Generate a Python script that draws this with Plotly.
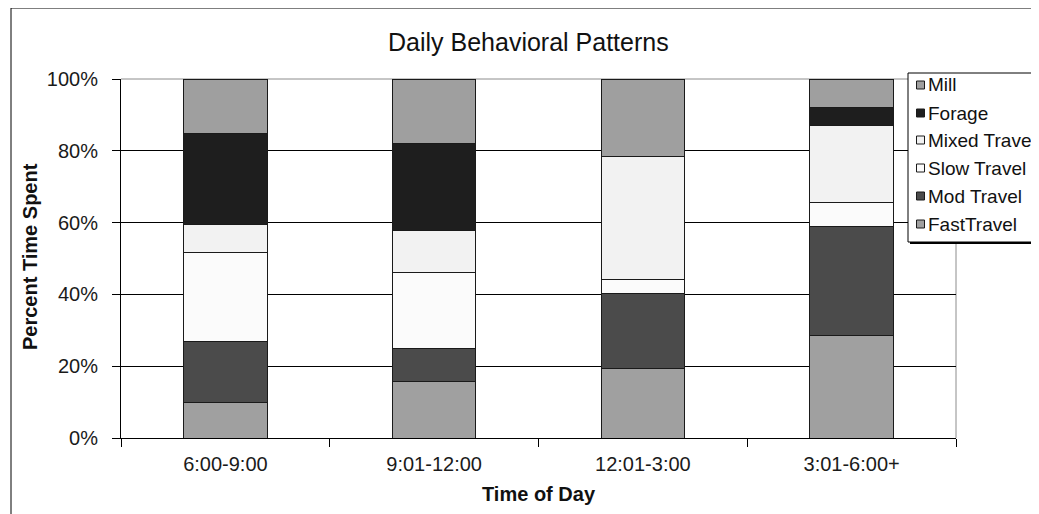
import plotly.graph_objects as go

# Time-of-day bins and the share of time (percent) spent in each behaviour
categories = ["6:00-9:00", "9:01-12:00", "12:01-3:00", "3:01-6:00+"]
fast_travel = [10.0, 15.7, 19.3, 28.5]
mod_travel = [16.9, 9.3, 21.0, 30.3]
slow_travel = [24.9, 21.2, 3.9, 6.7]
mixed_travel = [7.6, 11.5, 34.1, 21.6]
forage = [25.4, 24.3, 0.0, 5.0]
mill = [15.2, 18.0, 21.7, 7.9]

y_ticks = [0, 20, 40, 60, 80, 100]
y_tick_labels = ["0%", "20%", "40%", "60%", "80%", "100%"]

# Styling (stack order bottom -> top)
SERIES = [
    ("FastTravel", fast_travel, "#a0a0a0"),
    ("Mod Travel", mod_travel, "#4b4b4b"),
    ("Slow Travel", slow_travel, "#fbfbfb"),
    ("Mixed Travel", mixed_travel, "#f2f2f2"),
    ("Forage", forage, "#1e1e1e"),
    ("Mill", mill, "#9f9f9f"),
]
FONT = "Liberation Sans, Arial, sans-serif"
OUTLINE = "#1a1a1a"

# the page puts the figure 8px in from the window corner
OFF = 8
W, H = 1039 - OFF, 514 - OFF
# plot area in window pixels
PLOT_L, PLOT_R, PLOT_T, PLOT_B = 121, 956, 79, 438


def px_x(px):
    return (px - PLOT_L) / (PLOT_R - PLOT_L)


def px_y(py):
    return (PLOT_B - py) / (PLOT_B - PLOT_T)


fig = go.Figure()
for name, values, color in SERIES:
    fig.add_trace(
        go.Bar(
            x=categories,
            y=values,
            name=name,
            marker=dict(color=color, line=dict(color=OUTLINE, width=1)),
            width=0.4,
        )
    )

shapes = []
# outer chart border (runs off the right and bottom of the picture)
shapes.append(dict(type="rect", xref="paper", yref="paper",
                   x0=px_x(11), x1=px_x(1060), y0=px_y(530), y1=px_y(8),
                   line=dict(color="#000", width=1), fillcolor="rgba(0,0,0,0)",
                   layer="below"))
# grey plot-area border on top and right
shapes.append(dict(type="line", xref="paper", yref="paper", x0=0, x1=1, y0=1, y1=1,
                   line=dict(color="#8c8c8c", width=1), layer="between"))
shapes.append(dict(type="line", xref="paper", yref="paper", x0=1, x1=1, y0=0, y1=1,
                   line=dict(color="#8c8c8c", width=1), layer="between"))

# manual legend, clipped by the right edge like the original
LEG_L, LEG_T, LEG_B = 908, 73, 242
shapes.append(dict(type="rect", xref="paper", yref="paper",
                   x0=px_x(LEG_L + 2), x1=px_x(1070), y0=px_y(LEG_B + 2), y1=px_y(LEG_T + 2),
                   line=dict(width=0), fillcolor="#000", layer="above"))
shapes.append(dict(type="rect", xref="paper", yref="paper",
                   x0=px_x(LEG_L), x1=px_x(1070), y0=px_y(LEG_B), y1=px_y(LEG_T),
                   line=dict(color="#000", width=1), fillcolor="#fff", layer="above"))

annotations = []
legend_rows = [85, 113, 140, 168, 196, 224]
for (name, _, color), cy in zip(reversed(SERIES), legend_rows):
    shapes.append(dict(type="rect", xref="paper", yref="paper",
                       x0=px_x(916.5), x1=px_x(924.5), y0=px_y(cy + 4), y1=px_y(cy - 4),
                       line=dict(color=OUTLINE, width=1), fillcolor=color, layer="above"))
    annotations.append(dict(xref="paper", yref="paper", x=px_x(926), y=px_y(cy),
                            xanchor="left", yanchor="middle", showarrow=False,
                            text=name, font=dict(family=FONT, size=19, color="#111")))

# titles
annotations.append(dict(xref="paper", yref="paper", x=px_x(528), y=px_y(42),
                        xanchor="center", yanchor="middle", showarrow=False,
                        text="Daily Behavioral Patterns",
                        font=dict(family=FONT, size=25, color="#111")))
annotations.append(dict(xref="paper", yref="paper", x=px_x(539), y=px_y(494),
                        xanchor="center", yanchor="middle", showarrow=False,
                        text="<b>Time of Day</b>",
                        font=dict(family=FONT, size=20, color="#111")))
annotations.append(dict(xref="paper", yref="paper", x=px_x(30), y=px_y(257),
                        xanchor="center", yanchor="middle", showarrow=False,
                        textangle=-90, text="<b>Percent Time Spent</b>",
                        font=dict(family=FONT, size=20, color="#111")))

fig.update_layout(
    width=W,
    height=H,
    template="plotly_white",
    barmode="stack",
    showlegend=False,
    paper_bgcolor="#fff",
    plot_bgcolor="#fff",
    font=dict(family=FONT, size=20, color="#1a1a1a"),
    margin=dict(l=PLOT_L - OFF, r=W - (PLOT_R - OFF), t=PLOT_T - OFF, b=H - (PLOT_B - OFF),
                autoexpand=False),
    xaxis=dict(
        showline=True, linecolor="#000", linewidth=1,
        ticks="outside", tickson="boundaries", ticklen=8, tickcolor="#000",
        ticklabelstandoff=8,
        showgrid=False,
    ),
    yaxis=dict(
        range=[0, 100], tickvals=y_ticks, ticktext=y_tick_labels,
        showline=True, linecolor="#000", linewidth=1,
        ticks="outside", ticklen=8, tickcolor="#000",
        ticklabelstandoff=10,
        showgrid=True, gridcolor="#000", gridwidth=1,
        zeroline=False,
    ),
    shapes=shapes,
    annotations=annotations,
)

fig.write_html("out.html")
